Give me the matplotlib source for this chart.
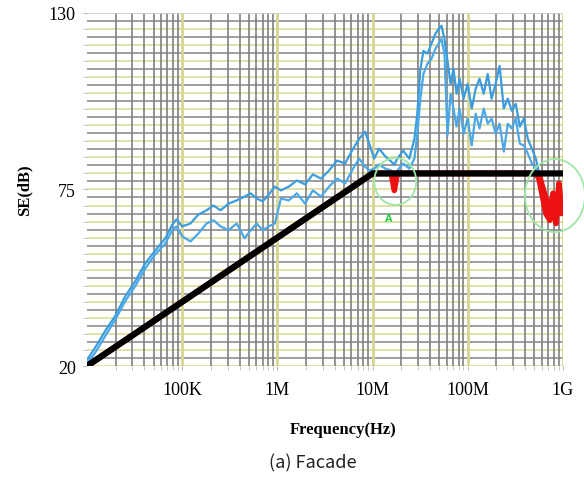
import numpy as np
import matplotlib
matplotlib.use("Agg")
import matplotlib.pyplot as plt
from matplotlib.patches import Ellipse
from matplotlib.transforms import ScaledTranslation
from matplotlib.ticker import FixedLocator, NullFormatter

# frequency points (Hz) shared by both sweeps
freq = [1.0e4, 1.21e4, 1.55e4, 1.97e4, 2.52e4, 3.21e4, 4.09e4, 5.22e4, 6.65e4, 7.88e4,
        8.69e4, 1.0e5, 1.22e5, 1.48e5, 1.80e5, 2.13e5, 2.53e5, 3.07e5, 3.73e5, 4.53e5,
        5.24e5, 6.06e5, 7.01e5, 8.11e5, 9.40e5, 1.09e6, 1.32e6, 1.60e6, 1.95e6, 2.36e6,
        2.87e6, 3.49e6, 4.23e6, 5.14e6, 6.24e6, 7.22e6, 8.36e6, 9.21e6, 1.04e7, 1.17e7,
        1.36e7, 1.57e7, 1.69e7, 1.82e7, 2.10e7, 2.43e7, 2.75e7, 2.95e7, 3.18e7, 3.42e7,
        3.77e7, 4.15e7, 4.57e7, 4.92e7, 5.29e7, 5.69e7, 6.12e7, 6.59e7, 7.08e7, 7.62e7,
        8.20e7, 9.04e7, 9.96e7, 1.10e8, 1.21e8, 1.33e8, 1.47e8, 1.62e8, 1.78e8, 1.96e8,
        2.16e8, 2.39e8, 2.63e8, 2.90e8, 3.19e8, 3.52e8, 3.88e8, 4.27e8, 4.71e8, 5.19e8,
        5.58e8, 6.00e8, 6.62e8, 7.29e8, 7.85e8, 8.44e8, 9.08e8, 9.53e8, 1.0e9]

se_1 = [21.9, 25.6, 30.9, 35.5, 41.7, 46.4, 52.0, 56.0, 59.8, 64.1,
        65.7, 63.5, 64.4, 67.2, 68.5, 70.0, 68.5, 70.6, 71.6, 72.8,
        73.8, 72.2, 71.3, 73.4, 75.9, 74.7, 75.9, 77.8, 76.6, 79.7,
        78.4, 80.9, 84.0, 83.1, 87.7, 90.8, 93.0, 89.3, 84.6, 87.7,
        85.3, 83.7, 82.7, 84.6, 87.1, 84.6, 90.8, 98.6, 112.6, 118.2,
        117.3, 120.4, 123.5, 125.0, 126.0, 121.9, 115.1, 107.9, 112.6, 104.8,
        109.5, 103.3, 107.9, 100.2, 106.4, 109.5, 104.8, 111.0, 103.3, 107.9,
        113.5, 100.2, 103.3, 99.5, 101.7, 94.6, 97.1, 90.8, 87.7, 84.6,
        80.3, 76.6, 72.2, 68.5, 73.8, 67.5, 76.9, 70.6, 72.2]

se_2 = [20.9, 24.0, 29.3, 34.3, 40.2, 44.9, 50.4, 54.8, 58.2, 62.3,
        63.5, 60.4, 58.8, 61.3, 64.4, 65.4, 63.5, 62.3, 64.4, 59.8,
        62.3, 64.4, 62.3, 63.5, 64.4, 72.2, 71.6, 73.8, 70.6, 74.7,
        72.8, 75.9, 78.4, 76.9, 81.5, 84.6, 82.1, 80.9, 81.5, 82.8,
        81.5, 80.9, 74.7, 80.9, 83.1, 81.5, 84.6, 92.4, 103.3, 111.0,
        114.2, 115.7, 118.8, 120.4, 121.9, 117.3, 91.8, 104.8, 100.2, 94.6,
        100.2, 92.4, 97.1, 88.7, 98.6, 94.0, 100.2, 95.5, 97.1, 92.4,
        95.5, 86.8, 95.5, 94.0, 97.1, 89.3, 88.7, 86.2, 83.1, 81.5,
        78.4, 73.8, 67.5, 65.4, 72.2, 64.4, 74.7, 67.5, 69.1]

# limit line
lim_f = [1e4, 1e7, 1e9]
lim_db = [20, 80, 80]

xticks = [1e5, 1e6, 1e7, 1e8, 1e9]
xlabels = ['100K', '1M', '10M', '100M', '1G']
yticks = [20, 75, 130]

serif = 'Liberation Serif'
fig = plt.figure(figsize=(5.84, 4.81), dpi=100)
ax = fig.add_axes([0.149, 0.237, 0.815, 0.734])
ax.set_xscale('log')
ax.set_xlim(1e4, 1e9)
ax.set_ylim(20, 130)

# grid: yellow at multiples of 5 dB / decades, gray in between
for v in np.arange(20, 130.1, 2.5):
    c = '#dcdc9a' if v % 5 == 0 else '#8e8e8e'
    ax.axhline(v, color=c, lw=1.2, zorder=0)
for d in range(4, 9):
    for m in range(2, 10):
        ax.axvline(m * 10**d, color='#808080', lw=1.2, zorder=0)
for d in range(5, 10):
    ax.axvline(10**d, color='#d6d690', lw=2.0, zorder=0)
ax.axhline(130, color='#cfcfcf', lw=1.2, zorder=0)

f = np.array(freq)
lim = np.interp(np.log10(f), np.log10(lim_f), lim_db)
for se, col in ((se_1, '#3a9de0'), (se_2, '#4aa8e8')):
    s = np.array(se)
    ax.plot(f, s, color=col, lw=1.6, zorder=2)
    ax.plot(f, np.minimum(s, lim), color='#ee1111', lw=4, zorder=3)
ax.plot(lim_f, lim_db, color='black', lw=4.5, solid_capstyle='butt', zorder=4)

# green marks
for (cx, cy, w, h) in [(1.73e7, 77.5, 0.42, 0.47), (8.24e8, 73.1, 0.60, 0.73)]:
    e = Ellipse((0, 0), w, h, fill=False, ec='#9ee6a6', lw=1.3,
                transform=fig.dpi_scale_trans + ScaledTranslation(cx, cy, ax.transData),
                clip_on=False, zorder=5)
    ax.add_patch(e)
ax.text(1.46e7, 66, 'A', color='#33cc44', fontsize=7, fontweight='bold',
        ha='center', va='center', zorder=5)

for sp in ax.spines.values():
    sp.set_visible(False)

ax.xaxis.set_major_locator(FixedLocator(xticks))
ax.set_xticklabels(xlabels, fontfamily=serif, fontsize=13)
ax.xaxis.set_minor_locator(FixedLocator([m * 10**d for d in range(4, 9) for m in range(2, 10)]))
ax.xaxis.set_minor_formatter(NullFormatter())
ax.tick_params(axis='x', which='both', length=3, color='#bbbbbb', pad=8)
ax.set_yticks(yticks)
ax.set_yticklabels([str(v) for v in yticks], fontfamily=serif, fontsize=13)
ax.yaxis.set_minor_locator(FixedLocator(np.arange(20, 131, 5)))
ax.tick_params(axis='y', which='both', length=3, color='#bbbbbb', pad=5)

fig.text(24 / 584, 1 - 190 / 481, 'SE(dB)', rotation=90, fontfamily=serif,
         fontweight='bold', fontsize=12, ha='center', va='center')
fig.text(343 / 584, 1 - 430 / 481, 'Frequency(Hz)', fontfamily=serif,
         fontweight='bold', fontsize=12, ha='center', va='center')
fig.text(313 / 584, 1 - 463 / 481, '(a) Facade', fontfamily=['Noto Sans CJK KR', 'DejaVu Sans'],
         fontsize=13, ha='center', va='center', color='#222222')

fig.savefig('out.png', dpi=100)
